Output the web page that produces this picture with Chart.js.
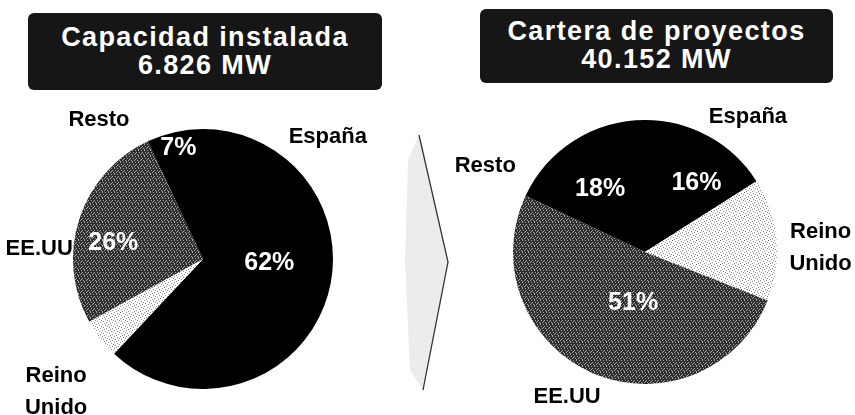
<!DOCTYPE html>
<html>
<head>
<meta charset="utf-8">
<script src="https://cdn.jsdelivr.net/npm/chart.js@4/dist/chart.umd.min.js"></script>
<style>
  html, body { margin: 0; padding: 0; background: #fff; }
  #wrap { position: relative; width: 855px; height: 415px; overflow: hidden; font-family: 'Liberation Sans', Arial, sans-serif; }
  .layer { position: absolute; left: 0; top: 0; }
  .tbox { position: absolute; background: #161616; color: #fff; font-weight: bold; font-size: 27px; letter-spacing: 1.4px; line-height: 28px; text-align: center; border-radius: 6px; box-sizing: border-box; }
</style>
</head>
<body>
<div id="wrap">
  <svg class="layer" width="855" height="415">
    <polygon points="419,135 448,262 423,390 410,370 405,262 408,160" fill="#ececec"/>
    <polyline points="419,135 448,262 423,390" fill="none" stroke="#333" stroke-width="1.3"/>
  </svg>
  <canvas id="c1" class="layer" width="855" height="415"></canvas>
  <canvas id="c2" class="layer" width="855" height="415"></canvas>
  <div id="t1" class="tbox" style="left:28px;top:13px;width:354px;height:77px;padding-top:10px;"></div>
  <div id="t2" class="tbox" style="left:480px;top:9px;width:353px;height:74px;padding-top:8px;"></div>
</div>
<script>
// ---- data ----
const categories = ['España', 'Reino Unido', 'EE.UU', 'Resto'];
const installedPct = [62, 5, 26, 7];
const portfolioPct = [16, 15, 51, 18];
const installedTitle = ['Capacidad instalada', '6.826 MW'];
const portfolioTitle = ['Cartera de proyectos', '40.152 MW'];
const showPctInstalled = [true, false, true, true];
const showPctPortfolio = [true, false, true, true];

document.getElementById('t1').innerHTML = installedTitle.join('<br>');
document.getElementById('t2').innerHTML = portfolioTitle.join('<br>');

// ---- layout (offsets in units of pie radius from the pie centre) ----
const layoutInstalled = {
  padding: { left: 73, top: 129, right: 522, bottom: 26 },
  name: [[0.96, -0.94], [-1.13, 1.02], [-1.26, -0.08], [-0.80, -1.07]],
  pct:  [[0.51, 0.03], [0, 0], [-0.69, -0.12], [-0.19, -0.85]]
};
const layoutPortfolio = {
  padding: { left: 513, top: 120, right: 78, bottom: 31 },
  name: [[0.78, -1.02], [1.33, -0.03], [-0.59, 1.10], [-1.21, -0.65]],
  pct:  [[0.39, -0.52], [0, 0], [-0.09, 0.39], [-0.34, -0.48]]
};

function stipple(ctx, base, dot, pts) {
  const c = document.createElement('canvas');
  c.width = c.height = 6;
  const x = c.getContext('2d');
  x.fillStyle = base; x.fillRect(0, 0, 6, 6);
  x.fillStyle = dot;
  pts.forEach(([a, b]) => x.fillRect(a, b, 1, 1));
  return ctx.createPattern(c, 'repeat');
}

const labelPlugin = {
  id: 'pieLabels',
  afterDatasetsDraw(chart, args, opts) {
    const ctx = chart.ctx;
    const arc = chart.getDatasetMeta(0).data[0];
    const { x, y, outerRadius: r } = arc.getProps(['x', 'y', 'outerRadius'], true);
    const ds = chart.data.datasets[0].data;
    ctx.save();
    ctx.textAlign = 'center';
    ctx.textBaseline = 'middle';
    // category names
    ctx.fillStyle = '#000';
    ctx.font = 'bold 22px "Liberation Sans", Arial, sans-serif';
    chart.data.labels.forEach((lab, i) => {
      const [dx, dy] = opts.name[i];
      const lines = lab.split(' ');
      const lh = 32;
      lines.forEach((ln, k) => {
        ctx.fillText(ln, x + dx * r, y + dy * r + (k - (lines.length - 1) / 2) * lh);
      });
    });
    // percentages
    ctx.fillStyle = '#fff';
    ctx.font = 'bold 25px "Liberation Sans", Arial, sans-serif';
    ds.forEach((v, i) => {
      if (!opts.show[i]) return;
      const [dx, dy] = opts.pct[i];
      ctx.fillText(v + '%', x + dx * r, y + dy * r);
    });
    ctx.restore();
  }
};

function makePie(id, values, layout, show) {
  const canvas = document.getElementById(id);
  const ctx = canvas.getContext('2d');
  const colors = [
    '#000000',
    stipple(ctx, '#ffffff', '#8a8a8a', [[0,0],[3,1],[1,3],[4,4],[5,2],[2,5]]),
    stipple(ctx, '#2e2e2e', '#a8a8a8', [[0,0],[3,0],[1,2],[4,2],[2,4],[5,4],[0,5],[3,3]]),
    '#000000'
  ];
  return new Chart(canvas, {
    type: 'pie',
    data: {
      labels: categories,
      datasets: [{ data: values, backgroundColor: colors, borderWidth: 0 }]
    },
    options: {
      responsive: false,
      devicePixelRatio: 1,
      animation: false,
      events: [],
      layout: { padding: layout.padding },
      plugins: {
        legend: { display: false },
        tooltip: { enabled: false },
        title: { display: false },
        pieLabels: { name: layout.name, pct: layout.pct, show: show }
      }
    },
    plugins: [labelPlugin]
  });
}

makePie('c1', installedPct, layoutInstalled, showPctInstalled);
makePie('c2', portfolioPct, layoutPortfolio, showPctPortfolio);
</script>
</body>
</html>
